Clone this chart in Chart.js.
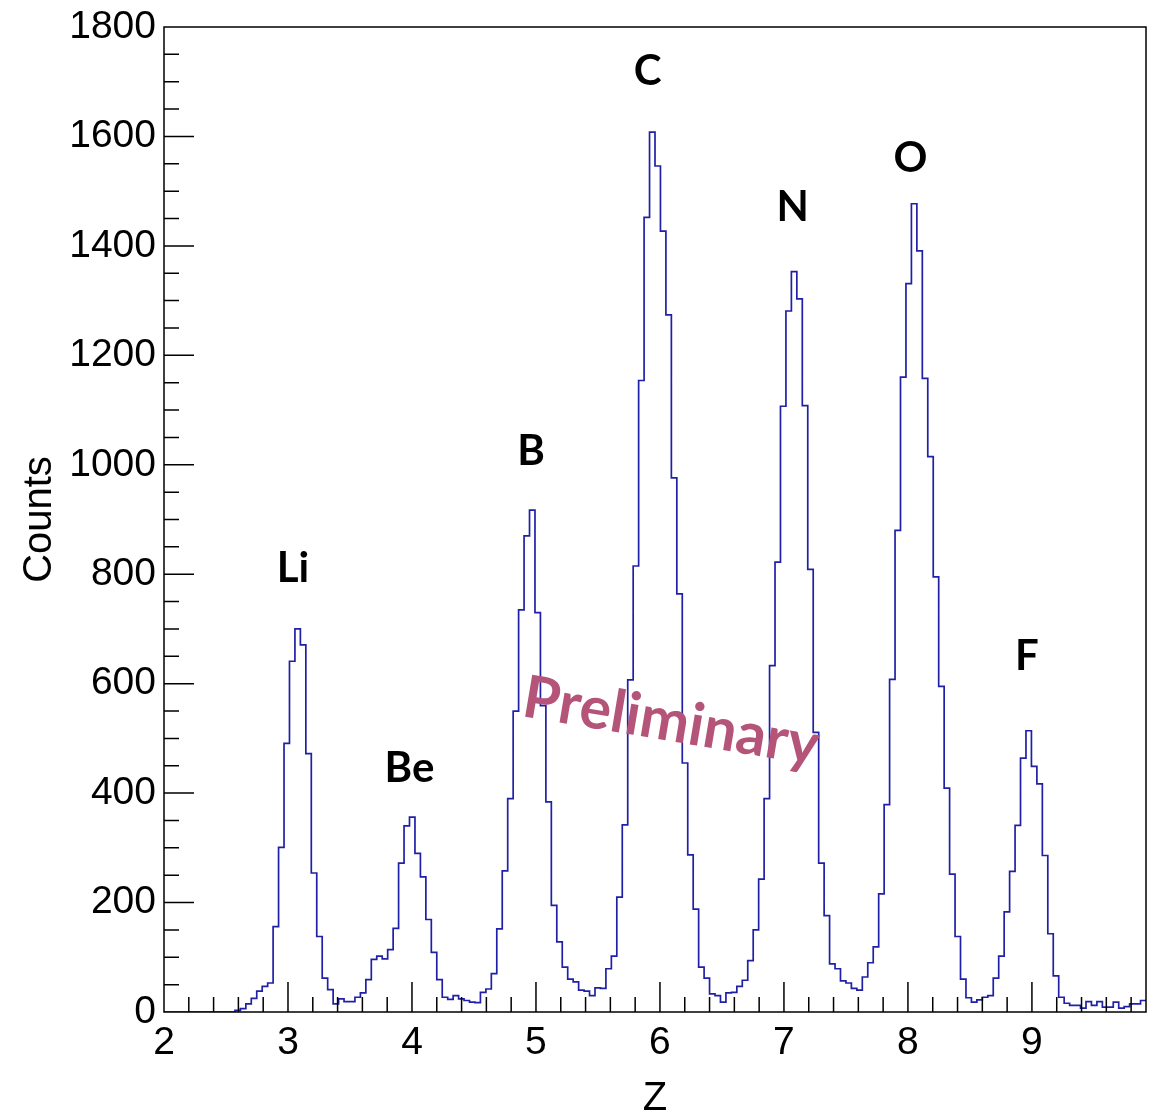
<!DOCTYPE html>
<html>
<head>
<meta charset="UTF-8">
<title>Z distribution</title>
<script src="https://cdn.jsdelivr.net/npm/chart.js"></script>
<style>
  body { margin: 0; background: #fff; }
  canvas { display: block; }
</style>
</head>
<body>
<canvas id="myChart" width="1160" height="1115"></canvas>
<script>
// histogram: 180 bins from Z=2 to Z=9.92
const binLow = 2;
const binWidth = 0.044;
const counts = [
  0, 0, 0, 0, 0, 0, 0, 0, 0, 0, 0, 0, 0, 3, 6, 15, 25, 38, 47, 53,
  156, 301, 491, 641, 700, 671, 472, 254, 138, 62, 41, 15, 24, 19, 19, 27, 35, 59, 96, 102,
  97, 114, 153, 272, 340, 356, 290, 247, 169, 109, 59, 27, 23, 30, 24, 21, 18, 17, 36, 42,
  70, 152, 258, 390, 550, 735, 870, 917, 730, 560, 384, 195, 128, 82, 60, 55, 40, 38, 30, 44,
  43, 79, 102, 210, 342, 607, 815, 1154, 1452, 1608, 1546, 1427, 1274, 976, 764, 455, 287, 188, 82, 62,
  33, 30, 18, 35, 36, 47, 58, 94, 150, 243, 390, 633, 822, 1107, 1281, 1353, 1303, 1108, 809, 511,
  272, 176, 88, 79, 57, 53, 43, 40, 64, 90, 119, 216, 379, 608, 880, 1160, 1331, 1477, 1391, 1158,
  1015, 795, 595, 409, 252, 138, 60, 26, 18, 22, 27, 30, 62, 102, 183, 257, 341, 464, 514, 449,
  417, 286, 143, 66, 27, 16, 12, 12, 7, 19, 12, 19, 9, 9, 18, 7, 10, 15, 15, 21
];
const xTicks = [2, 3, 4, 5, 6, 7, 8, 9];
const yTicks = [0, 200, 400, 600, 800, 1000, 1200, 1400, 1600, 1800];
const peakNames = ['Li', 'Be', 'B', 'C', 'N', 'O', 'F'];
const watermark = 'Preliminary';

const xMax = binLow + counts.length * binWidth;

// bin left edges, plus closing point at the right edge
const points = counts.map((c, i) => ({ x: binLow + i * binWidth, y: c }));
points.push({ x: xMax, y: counts[counts.length - 1] });

// label anchors in data units (Z, counts)
const peakAnchors = [[3.04, 810], [3.98, 445], [4.96, 1025], [5.90, 1718], [7.07, 1471], [8.02, 1559], [8.96, 649]];

const decorations = {
  id: 'decorations',
  afterDatasetsDraw(chart) {
    const { ctx, chartArea: a, scales: { x, y } } = chart;
    ctx.save();
    ctx.strokeStyle = '#000';
    ctx.lineWidth = 1.5;
    ctx.strokeRect(a.left, a.top, a.right - a.left, a.bottom - a.top);

    ctx.beginPath();
    for (let k = 1; binLow + k * 0.2 < xMax; k++) {
      const v = binLow + k * 0.2;
      const px = x.getPixelForValue(v);
      const len = (k % 5 === 0) ? 30 : 15;
      ctx.moveTo(px, a.bottom);
      ctx.lineTo(px, a.bottom - len);
    }
    for (let v = 50; v < 1800; v += 50) {
      const py = y.getPixelForValue(v);
      const len = (v % 200 === 0) ? 30 : 15;
      ctx.moveTo(a.left, py);
      ctx.lineTo(a.left + len, py);
    }
    ctx.stroke();

    ctx.fillStyle = '#000';
    ctx.font = 'bold 42px Lato';
    ctx.textAlign = 'center';
    ctx.textBaseline = 'middle';
    peakNames.forEach((name, i) => {
      ctx.fillText(name, x.getPixelForValue(peakAnchors[i][0]), y.getPixelForValue(peakAnchors[i][1]));
    });

    ctx.translate(x.getPixelForValue(6.09), y.getPixelForValue(530));
    ctx.rotate(9.5 * Math.PI / 180);
    ctx.fillStyle = '#b55479';
    ctx.font = 'bold 59px Lato';
    ctx.fillText(watermark, 0, 0);
    ctx.restore();
  }
};

const tickFont = { family: 'Liberation Sans', size: 39 };

new Chart(document.getElementById('myChart'), {
  type: 'line',
  data: {
    datasets: [{
      data: points,
      stepped: true,
      borderColor: '#2020a6',
      borderWidth: 1.7,
      pointRadius: 0,
      fill: false
    }]
  },
  options: {
    responsive: false,
    animation: false,
    layout: { padding: { top: 27, right: 14, left: 0, bottom: 0 } },
    plugins: { legend: { display: false }, tooltip: { enabled: false } },
    scales: {
      x: {
        type: 'linear',
        min: binLow,
        max: xMax,
        grid: { display: false },
        border: { display: false },
        afterBuildTicks: s => { s.ticks = xTicks.map(v => ({ value: v })); },
        afterFit: s => { s.height = 103; },
        ticks: { font: tickFont, color: '#000', padding: 0, maxRotation: 0, autoSkip: false, callback: v => String(v) },
        title: { display: true, text: 'Z', color: '#000', font: { family: 'Liberation Sans', size: 40, lineHeight: 0.8 }, padding: { top: 0, bottom: 0 } }
      },
      y: {
        min: 0,
        max: 1800,
        grid: { display: false },
        border: { display: false },
        afterBuildTicks: s => { s.ticks = yTicks.map(v => ({ value: v })); },
        afterFit: s => { s.width = 164; },
        ticks: { font: tickFont, color: '#000', padding: 0, callback: v => String(v) },
        title: { display: true, text: 'Counts', color: '#000', font: { family: 'Liberation Sans', size: 40, lineHeight: 1.2 }, padding: { top: 16, bottom: 0 } }
      }
    }
  },
  plugins: [decorations]
});
</script>
</body>
</html>
